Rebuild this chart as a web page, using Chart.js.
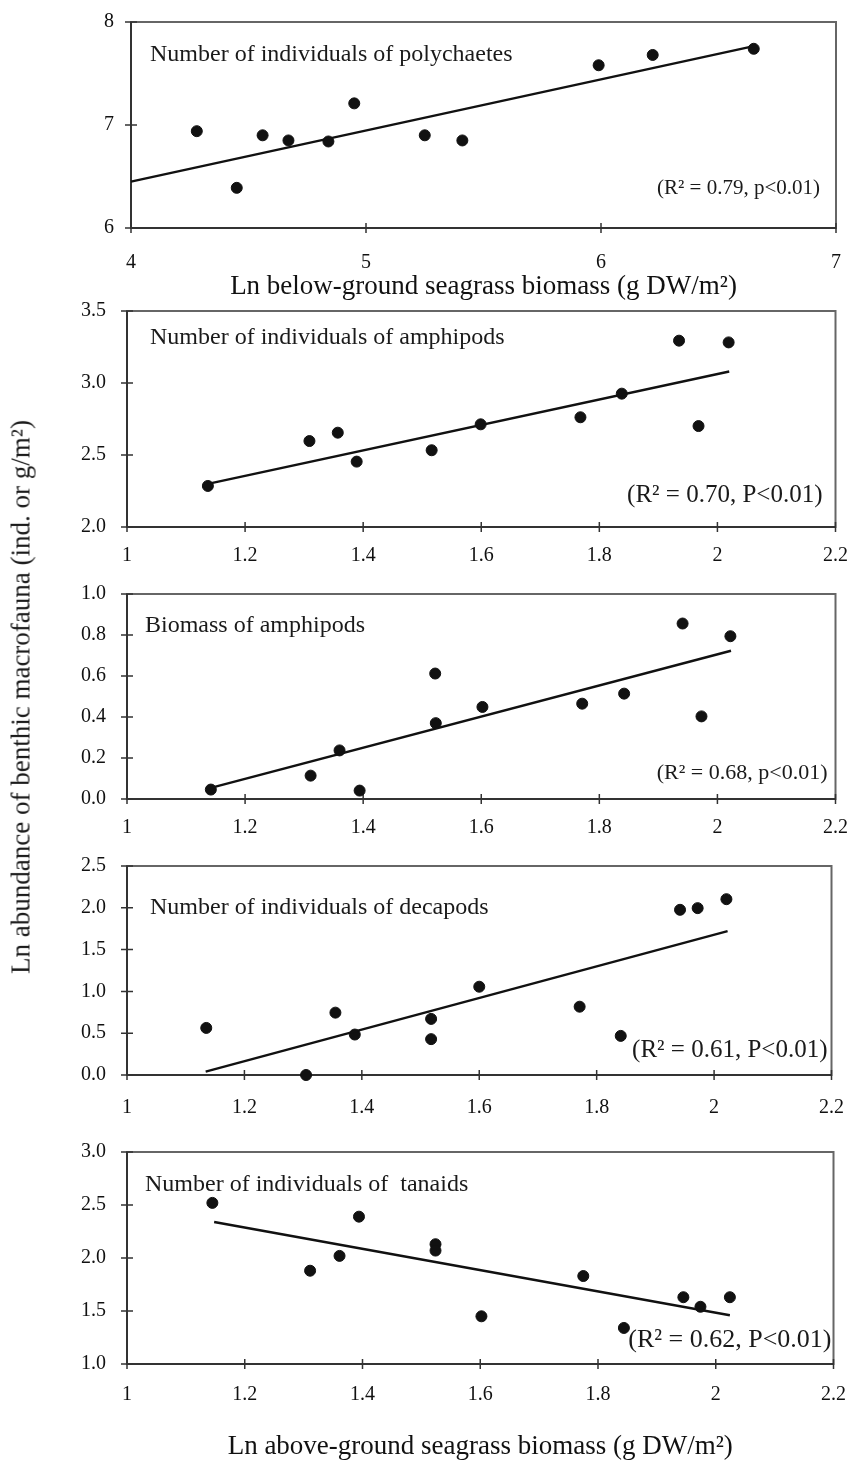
<!DOCTYPE html>
<html lang="en">
<head>
<meta charset="UTF-8">
<title>Seagrass biomass and benthic macrofauna</title>
<script src="https://cdn.jsdelivr.net/npm/chart.js"></script>
<style>
  body { margin: 0; background: #fff; }
  #page { position: relative; width: 865px; height: 1466px; overflow: hidden; }
  canvas { position: absolute; left: 0; }
  #ytitle {
    position: absolute; left: 21px; top: 697px;
    transform: translate(-50%, -50%) rotate(-90deg);
    white-space: nowrap; font-family: "Liberation Serif", serif;
    font-size: 27px; color: #1a1a1a;
  }
</style>
</head>
<body>
<div id="page">
  <canvas id="c1"></canvas>
  <canvas id="c2"></canvas>
  <canvas id="c3"></canvas>
  <canvas id="c4"></canvas>
  <canvas id="c5"></canvas>
  <div id="ytitle">Ln abundance of benthic macrofauna (ind. or g/m²)</div>
</div>
<script>
// ---- data ----
const belowTicks = [4, 5, 6, 7];
const aboveTicks = [1, 1.2, 1.4, 1.6, 1.8, 2, 2.2];

const polyX = [4.28, 4.45, 4.56, 4.67, 4.84, 4.95, 5.25, 5.41, 5.99, 6.22, 6.65];
const polyY = [6.94, 6.39, 6.90, 6.85, 6.84, 7.21, 6.90, 6.85, 7.58, 7.68, 7.74];
const polyFitX = [4, 6.66];
const polyFitY = [6.45, 7.77];
const polyTicks = [6, 7, 8];

const amphX = [1.137, 1.309, 1.357, 1.389, 1.516, 1.599, 1.768, 1.838, 1.935, 1.968, 2.019];
const amphY = [2.285, 2.597, 2.655, 2.454, 2.533, 2.713, 2.762, 2.926, 3.294, 2.701, 3.282];
const amphFitX = [1.137, 2.02];
const amphFitY = [2.30, 3.08];
const amphTicks = [2.0, 2.5, 3.0, 3.5];

const amphBioX = [1.142, 1.311, 1.360, 1.394, 1.522, 1.523, 1.602, 1.771, 1.842, 1.941, 1.973, 2.022];
const amphBioY = [0.046, 0.114, 0.237, 0.041, 0.612, 0.370, 0.449, 0.465, 0.514, 0.856, 0.403, 0.794];
const amphBioFitX = [1.142, 2.023];
const amphBioFitY = [0.054, 0.723];
const amphBioTicks = [0, 0.2, 0.4, 0.6, 0.8, 1.0];

const decaX = [1.135, 1.305, 1.355, 1.388, 1.518, 1.518, 1.600, 1.771, 1.841, 1.942, 1.972, 2.021];
const decaY = [0.563, 0.0, 0.746, 0.484, 0.671, 0.429, 1.056, 0.817, 0.468, 1.976, 1.996, 2.103];
const decaFitX = [1.134, 2.023];
const decaFitY = [0.04, 1.72];
const decaTicks = [0, 0.5, 1.0, 1.5, 2.0, 2.5];

const tanX = [1.145, 1.311, 1.361, 1.394, 1.524, 1.524, 1.602, 1.775, 1.844, 1.945, 1.974, 2.024];
const tanY = [2.52, 1.88, 2.02, 2.39, 2.13, 2.07, 1.45, 1.83, 1.34, 1.63, 1.54, 1.63];
const tanFitX = [1.148, 2.024];
const tanFitY = [2.34, 1.46];
const tanTicks = [1.0, 1.5, 2.0, 2.5, 3.0];

const panelLabels = [
  'Number of individuals of polychaetes',
  'Number of individuals of amphipods',
  'Biomass of amphipods',
  'Number of individuals of decapods',
  'Number of individuals of  tanaids'
];
const statLabels = [
  '(R² = 0.79, p<0.01)',
  '(R² = 0.70, P<0.01)',
  '(R² = 0.68, p<0.01)',
  '(R² = 0.61, P<0.01)',
  '(R² = 0.62, P<0.01)'
];
const belowTitle = 'Ln below-ground seagrass biomass (g DW/m²)';
const aboveTitle = 'Ln above-ground seagrass biomass (g DW/m²)';

const FONT = '"Liberation Serif", "Times New Roman", serif';
const INK = '#111';

// frame, crossing tick marks and in-panel text
const panelDecor = {
  id: 'panelDecor',
  beforeDatasetsDraw(chart) {
    const { ctx, chartArea: a, scales } = chart;
    ctx.save();
    ctx.strokeStyle = '#666';
    ctx.lineWidth = 2;
    ctx.strokeRect(a.left, a.top, a.right - a.left, a.bottom - a.top);
    ctx.strokeStyle = '#333';
    ctx.beginPath();
    ctx.moveTo(a.left, a.top); ctx.lineTo(a.left, a.bottom); ctx.lineTo(a.right, a.bottom);
    ctx.stroke();
    ctx.lineWidth = 1.5;
    ctx.beginPath();
    scales.y.ticks.forEach(t => {
      const py = scales.y.getPixelForValue(t.value);
      ctx.moveTo(a.left - 6, py); ctx.lineTo(a.left + 6, py);
    });
    scales.x.ticks.forEach(t => {
      const px = scales.x.getPixelForValue(t.value);
      ctx.moveTo(px, a.bottom - 5); ctx.lineTo(px, a.bottom + 5);
    });
    ctx.stroke();
    ctx.restore();
  },
  afterDraw(chart, args, opts) {
    const { ctx, chartArea: a } = chart;
    ctx.save();
    ctx.fillStyle = '#1a1a1a';
    ctx.textBaseline = 'middle';
    ctx.font = '24px ' + FONT;
    ctx.textAlign = 'left';
    ctx.fillText(opts.label, a.left + opts.labelAt[0], a.top + opts.labelAt[1]);
    ctx.font = opts.statSize + 'px ' + FONT;
    ctx.textAlign = 'right';
    ctx.fillText(opts.stat, a.right - opts.statAt[0], a.bottom - opts.statAt[1]);
    ctx.restore();
  }
};

function makePanel(id, p) {
  const canvas = document.getElementById(id);
  canvas.width = 865;
  canvas.height = p.canvasBottom - p.canvasTop;
  canvas.style.top = p.canvasTop + 'px';

  const points = p.x.map((v, i) => ({ x: v, y: p.y[i] }));
  const fit = p.fitX.map((v, i) => ({ x: v, y: p.fitY[i] }));
  const yW = 60;
  const xH = p.canvasBottom - p.chartBottom;

  return new Chart(canvas, {
    type: 'scatter',
    data: {
      datasets: [
        {
          type: 'line', data: fit, borderColor: INK, borderWidth: 2.4,
          pointRadius: 0, fill: false, clip: false
        },
        {
          data: points, backgroundColor: INK, borderColor: INK,
          pointRadius: 5.5, clip: false
        }
      ]
    },
    options: {
      responsive: false,
      animation: false,
      layout: {
        padding: {
          left: p.left - yW,
          right: 865 - p.right,
          top: p.chartTop - p.canvasTop,
          bottom: 0
        }
      },
      plugins: {
        legend: { display: false },
        tooltip: { enabled: false },
        panelDecor: {
          label: p.label, stat: p.stat, statSize: p.statSize,
          labelAt: p.labelAt, statAt: p.statAt
        }
      },
      scales: {
        x: {
          type: 'linear',
          min: p.xTicks[0], max: p.xTicks[p.xTicks.length - 1],
          afterBuildTicks: s => { s.ticks = p.xTicks.map(v => ({ value: v })); },
          afterFit: s => { s.height = xH; },
          grid: { display: false, drawTicks: false },
          border: { display: false },
          ticks: {
            padding: p.xPad, color: '#111', maxRotation: 0, autoSkip: false,
            font: { family: FONT, size: 20 },
            callback: v => String(v)
          },
          title: {
            display: !!p.xTitle, text: p.xTitle || '', color: '#111',
            font: { family: FONT, size: 27 }, padding: { top: 0, bottom: 0 }
          }
        },
        y: {
          type: 'linear',
          min: p.yTicks[0], max: p.yTicks[p.yTicks.length - 1],
          afterBuildTicks: s => { s.ticks = p.yTicks.map(v => ({ value: v })); },
          // fixed width; don't let label overhang push the plot frame down
          afterFit: s => { s.width = yW; s.paddingTop = 0; s.paddingBottom = 0; },
          grid: { display: false, drawTicks: false },
          border: { display: false },
          ticks: {
            padding: p.yPad, color: '#111', autoSkip: false,
            font: { family: FONT, size: 20 },
            callback: v => v.toFixed(p.yDec)
          }
        }
      }
    },
    plugins: [panelDecor]
  });
}

makePanel('c1', {
  x: polyX, y: polyY, fitX: polyFitX, fitY: polyFitY,
  xTicks: belowTicks, yTicks: polyTicks, yDec: 0,
  left: 131, right: 836, chartTop: 22, chartBottom: 228, canvasTop: 2, canvasBottom: 303,
  xPad: 23, yPad: 17, xTitle: belowTitle,
  label: panelLabels[0], stat: statLabels[0], statSize: 21, labelAt: [19, 33], statAt: [16, 40]
});
makePanel('c2', {
  x: amphX, y: amphY, fitX: amphFitX, fitY: amphFitY,
  xTicks: aboveTicks, yTicks: amphTicks, yDec: 1,
  left: 127, right: 838, chartTop: 311, chartBottom: 527, canvasTop: 298, canvasBottom: 580,
  xPad: 17, yPad: 21,
  label: panelLabels[1], stat: statLabels[1], statSize: 25, labelAt: [23, 27], statAt: [13, 32]
});
makePanel('c3', {
  x: amphBioX, y: amphBioY, fitX: amphBioFitX, fitY: amphBioFitY,
  xTicks: aboveTicks, yTicks: amphBioTicks, yDec: 1,
  left: 127, right: 838, chartTop: 594, chartBottom: 799, canvasTop: 580, canvasBottom: 852,
  xPad: 17, yPad: 21,
  label: panelLabels[2], stat: statLabels[2], statSize: 22, labelAt: [18, 32], statAt: [8, 26]
});
makePanel('c4', {
  x: decaX, y: decaY, fitX: decaFitX, fitY: decaFitY,
  xTicks: aboveTicks, yTicks: decaTicks, yDec: 1,
  left: 127, right: 840, chartTop: 866, chartBottom: 1075, canvasTop: 852, canvasBottom: 1136,
  xPad: 21, yPad: 21,
  label: panelLabels[3], stat: statLabels[3], statSize: 25, labelAt: [23, 42], statAt: [4, 25]
});
makePanel('c5', {
  x: tanX, y: tanY, fitX: tanFitX, fitY: tanFitY,
  xTicks: aboveTicks, yTicks: tanTicks, yDec: 1,
  left: 127, right: 840, chartTop: 1152, chartBottom: 1364, canvasTop: 1136, canvasBottom: 1463,
  xPad: 19, yPad: 21, xTitle: aboveTitle,
  label: panelLabels[4], stat: statLabels[4], statSize: 26, labelAt: [18, 33], statAt: [2, 24]
});
</script>
</body>
</html>
